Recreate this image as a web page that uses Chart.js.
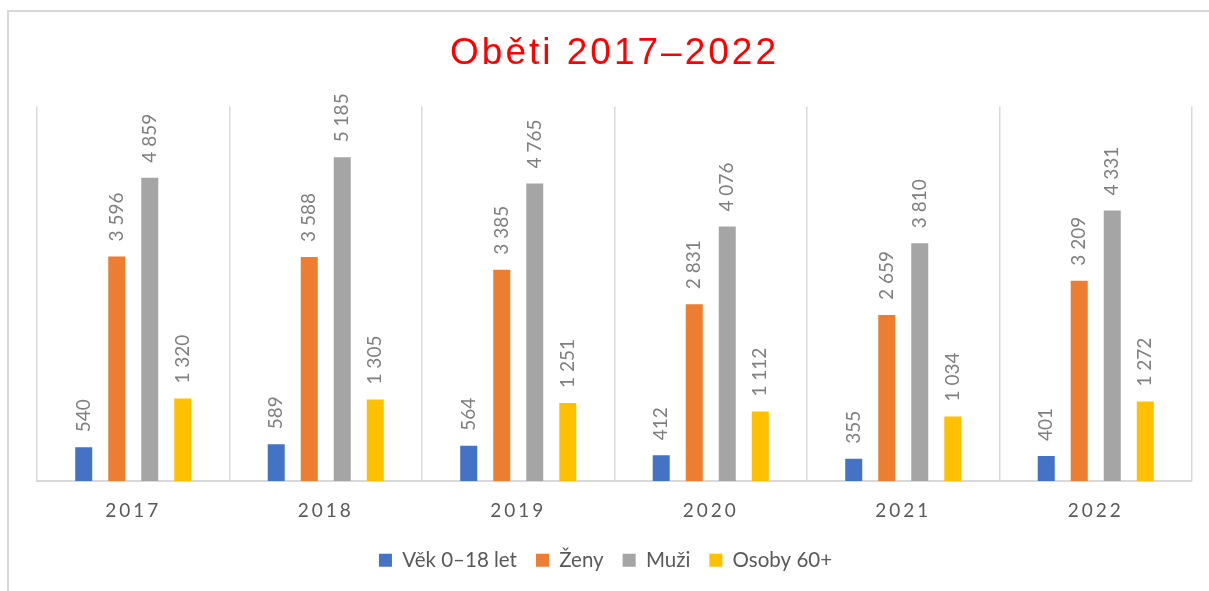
<!DOCTYPE html>
<html>
<head>
<meta charset="utf-8">
<script src="https://cdn.jsdelivr.net/npm/chart.js@4"></script>
<style>
  html, body { margin: 0; padding: 0; background: #fff; overflow: hidden; }
  #wrap { width: 1209px; height: 591px; position: relative; }
</style>
</head>
<body>
<div id="wrap"><canvas id="chart" width="1209" height="591"></canvas></div>
<script>
"use strict";
const years = ["2017", "2018", "2019", "2020", "2021", "2022"];
const vek = [540, 589, 564, 412, 355, 401];
const zeny = [3596, 3588, 3385, 2831, 2659, 3209];
const muzi = [4859, 5185, 4765, 4076, 3810, 4331];
const osoby = [1320, 1305, 1251, 1112, 1034, 1272];
const seriesNames = ["Věk 0–18 let", "Ženy", "Muži", "Osoby 60+"];
const seriesColors = ["#4472C4", "#ED7D31", "#A5A5A5", "#FFC000"];

const gridColor = "#d9d9d9";
const textColor = "#595959";

function formatCz(v) {
    return String(v).replace(/\B(?=(\d{3})+(?!\d))/g, " ");
}

// wrap a draw method so its text gets letter spacing
function addSpacing(obj, name, spacing) {
    if (!obj || obj["_spaced_" + name]) return;
    const orig = obj[name];
    obj[name] = function (...args) {
        const c = this.ctx;
        c.save();
        c.letterSpacing = spacing;
        orig.apply(this, args);
        c.restore();
    };
    obj["_spaced_" + name] = true;
}

const framePlugin = {
    id: "frame",
    afterLayout(chart) {
        // legend sits a bit left of centre in the original
        chart.legend.left -= 9;
        chart.legend.right -= 9;
    },
    beforeDraw(chart) {
        addSpacing(chart.scales.x, "drawLabels", "3px");
        addSpacing(chart.titleBlock, "draw", "3px");
        const c = chart.ctx;
        c.save();
        c.strokeStyle = gridColor;
        c.lineWidth = 2;
        c.beginPath();
        c.moveTo(8, chart.height);
        c.lineTo(8, 11);
        c.lineTo(chart.width, 11);
        c.stroke();
        c.restore();
    }
};

const valueLabels = {
    id: "valueLabels",
    afterDatasetsDraw(chart) {
        const c = chart.ctx;
        c.save();
        c.font = "19px Lato";
        c.fillStyle = "#7f7f7f";
        c.textAlign = "left";
        c.textBaseline = "middle";
        chart.data.datasets.forEach((ds, i) => {
            const meta = chart.getDatasetMeta(i);
            meta.data.forEach((bar, j) => {
                c.save();
                c.translate(bar.x, bar.y - 15);
                c.rotate(-Math.PI / 2);
                c.fillText(formatCz(ds.data[j]), 0, 0);
                c.restore();
            });
        });
        c.restore();
    }
};

const ctx = document.getElementById("chart").getContext("2d");
const chart = new Chart(ctx, {
    type: "bar",
    data: {
        labels: years,
        datasets: [vek, zeny, muzi, osoby].map((d, i) => ({
            label: seriesNames[i],
            data: d,
            backgroundColor: seriesColors[i],
            borderWidth: 0,
            categoryPercentage: 0.686,
            barPercentage: 0.515
        }))
    },
    options: {
        responsive: false,
        animation: false,
        layout: { padding: { left: 37, right: 17, top: 0, bottom: 10.5 } },
        plugins: {
            title: {
                display: true,
                text: "Oběti 2017–2022",
                color: "#FF0000",
                font: { family: "'Liberation Sans', Arial, sans-serif", size: 37, weight: "normal" },
                padding: { top: 32, bottom: 30 }
            },
            legend: {
                position: "bottom",
                labels: {
                    boxWidth: 13,
                    boxHeight: 13,
                    padding: 19,
                    color: textColor,
                    font: { family: "Lato", size: 20.5 }
                }
            },
            tooltip: { enabled: false }
        },
        scales: {
            x: {
                grid: {
                    display: true, color: gridColor, lineWidth: 1.5, offset: true,
                    drawTicks: true, tickLength: 10, tickColor: "rgba(0,0,0,0)"
                },
                border: { display: true, color: gridColor, width: 2 },
                ticks: {
                    color: textColor,
                    padding: 8.6,
                    font: { family: "Lato", size: 19 }
                }
            },
            y: {
                display: false,
                min: 0,
                max: 6000
            }
        }
    },
    plugins: [framePlugin, valueLabels]
});
</script>
</body>
</html>
